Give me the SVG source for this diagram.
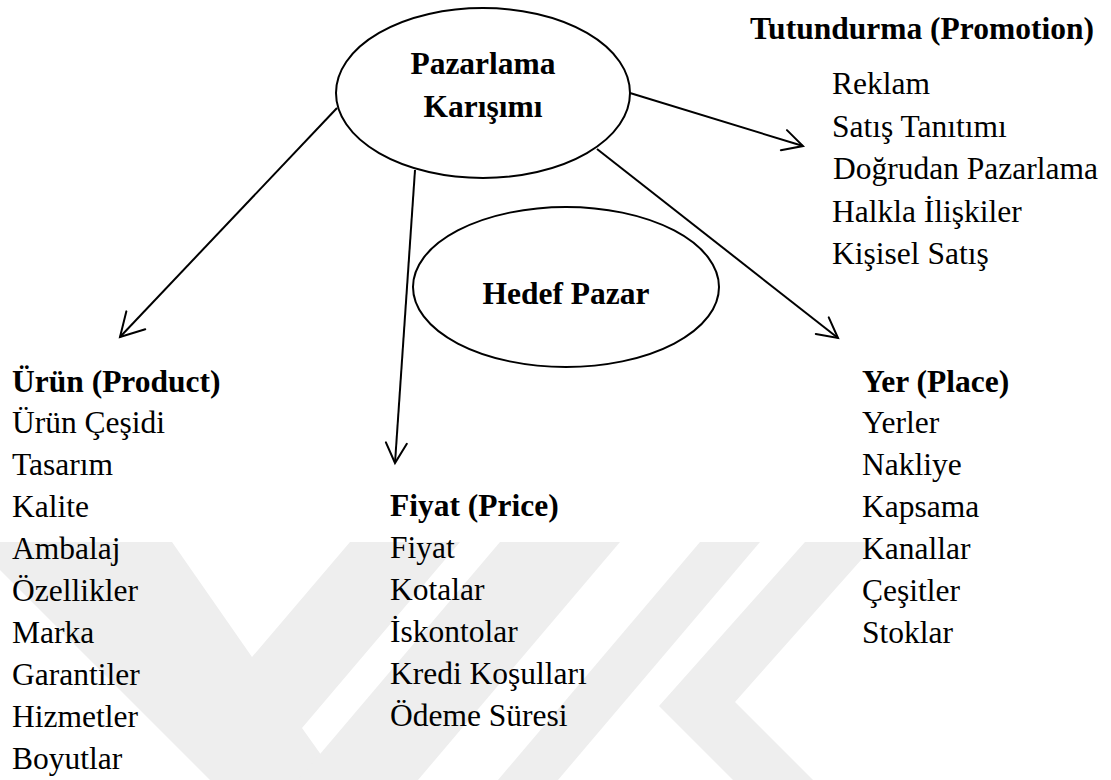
<svg xmlns="http://www.w3.org/2000/svg" width="1111" height="780" viewBox="0 0 1111 780">
  <style>
    text { font-family: 'Liberation Serif', 'Times New Roman', Tinos, 'DejaVu Serif', serif; font-size: 31.5px; fill: #000; }
    .b { font-weight: bold; }
    .c { text-anchor: middle; }
    .wm { fill: #eeeeee; stroke: none; }
    .node ellipse { fill: none; stroke: #000; stroke-width: 2; }
    .conn line { stroke: #000; stroke-width: 2; fill: none; }
  </style>
  <defs>
    <marker id="arr" markerUnits="userSpaceOnUse" viewBox="-24 -14 28 28" markerWidth="28" markerHeight="28" refX="0" refY="0" orient="auto">
      <path d="M-20,-10.5 L0,0 L-20,10.5" fill="none" stroke="#000" stroke-width="2" stroke-linecap="round" stroke-linejoin="miter"/>
    </marker>
    <marker id="arrL" markerUnits="userSpaceOnUse" viewBox="-28 -16 32 32" markerWidth="32" markerHeight="32" refX="0" refY="0" orient="auto">
      <path d="M-23,-13 L0,0 L-23,13" fill="none" stroke="#000" stroke-width="2" stroke-linecap="round" stroke-linejoin="miter"/>
    </marker>
  </defs>
  <rect x="0" y="0" width="1111" height="780" fill="#fff"/>

  <g id="watermark">
    <polygon class="wm" points="0,542 172,542 252,657 350,542 460,542 302,728 339,780 210,780 0,570"/>
    <polygon class="wm" points="500,542 620,542 418,780 298,780"/>
    <polygon class="wm" points="700,542 760,542 558,780 498,780"/>
    <polygon class="wm" points="805,542 877,542 735,702 813,780 733,780 659,706"/>
  </g>

  <g id="connectors" class="conn">
    <line x1="337" y1="108" x2="120" y2="337" marker-end="url(#arrL)"/>
    <line x1="415" y1="170" x2="395" y2="463" marker-end="url(#arr)"/>
    <line x1="630" y1="93" x2="803" y2="146" marker-end="url(#arr)"/>
    <line x1="597" y1="149" x2="838" y2="338" marker-end="url(#arr)"/>
  </g>

  <g id="node-pazarlama" class="node" font-family="Liberation Serif, serif">
    <ellipse cx="483" cy="93" rx="147" ry="85"/>
    <text class="b c" x="483" y="74">Pazarlama</text>
    <text class="b c" x="483" y="117">Karışımı</text>
  </g>

  <g id="node-hedef" class="node">
    <ellipse cx="566" cy="287" rx="153" ry="80"/>
    <text class="b c" x="566" y="304">Hedef Pazar</text>
  </g>

  <g id="node-promotion">
    <text class="b" x="750" y="39">Tutundurma (Promotion)</text>
    <text x="832" y="94">Reklam</text>
    <text x="832" y="137">Satış Tanıtımı</text>
    <text x="833" y="179">Doğrudan Pazarlama</text>
    <text x="832" y="222">Halkla İlişkiler</text>
    <text x="832" y="264">Kişisel Satış</text>
  </g>

  <g id="node-product">
    <text class="b" x="12" y="392">Ürün (Product)</text>
    <text x="12" y="433">Ürün Çeşidi</text>
    <text x="12" y="475">Tasarım</text>
    <text x="12" y="517">Kalite</text>
    <text x="12" y="559">Ambalaj</text>
    <text x="12" y="601">Özellikler</text>
    <text x="12" y="643">Marka</text>
    <text x="12" y="685">Garantiler</text>
    <text x="12" y="727">Hizmetler</text>
    <text x="12" y="769">Boyutlar</text>
  </g>

  <g id="node-price">
    <text class="b" x="390" y="516">Fiyat (Price)</text>
    <text x="390" y="558">Fiyat</text>
    <text x="390" y="600">Kotalar</text>
    <text x="390" y="642">İskontolar</text>
    <text x="390" y="684">Kredi Koşulları</text>
    <text x="390" y="726">Ödeme Süresi</text>
  </g>

  <g id="node-place">
    <text class="b" x="862" y="392">Yer (Place)</text>
    <text x="862" y="433">Yerler</text>
    <text x="862" y="475">Nakliye</text>
    <text x="862" y="517">Kapsama</text>
    <text x="862" y="559">Kanallar</text>
    <text x="862" y="601">Çeşitler</text>
    <text x="862" y="643">Stoklar</text>
  </g>
</svg>
